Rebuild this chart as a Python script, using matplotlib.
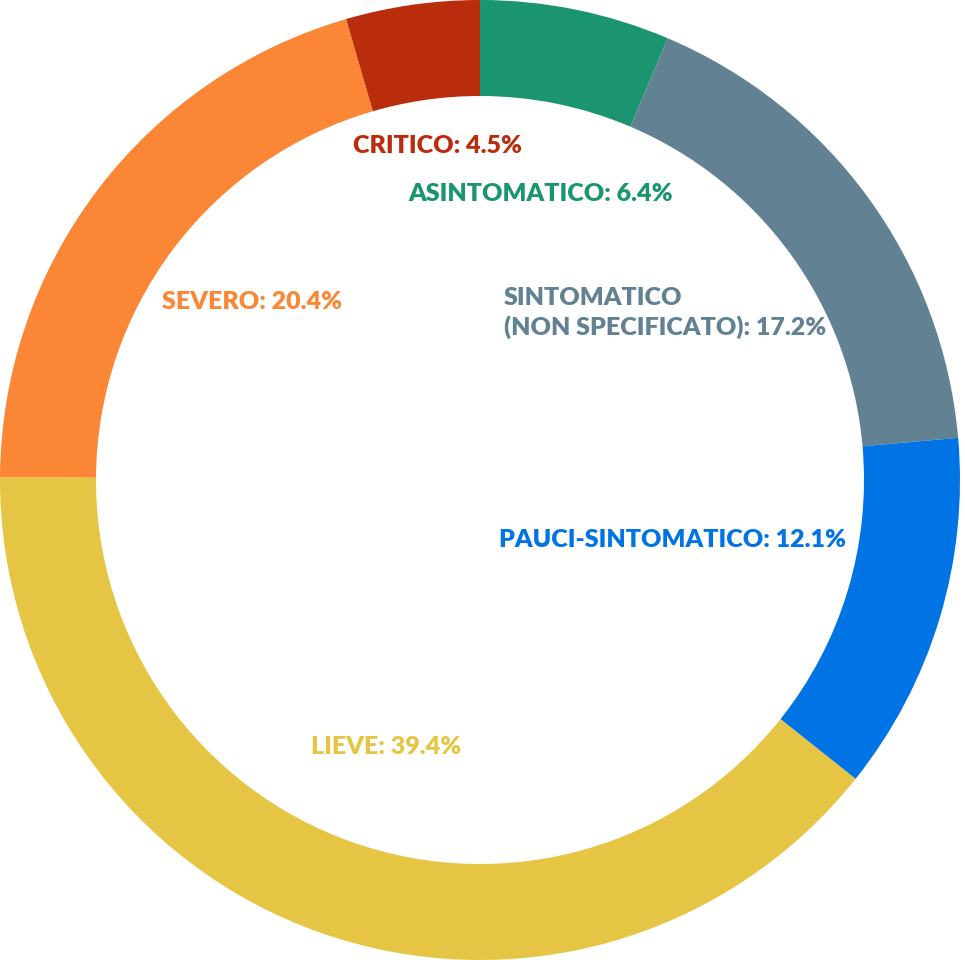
import matplotlib.pyplot as plt

plt.rcParams['font.family'] = ['Lato', 'DejaVu Sans']

categories = ["ASINTOMATICO", "SINTOMATICO\n(NON SPECIFICATO)", "PAUCI-SINTOMATICO",
              "LIEVE", "SEVERO", "CRITICO"]
shares = [6.4, 17.2, 12.1, 39.4, 20.4, 4.5]
colors = ["#1b9570", "#628294", "#0074e5", "#e6c545", "#fb8636", "#b92d0d"]

# label anchors (left edge, vertical centre) in pixels from the top-left corner
label_px = [(408, 194), (504, 313), (499, 540), (311, 747), (162, 302), (353, 146)]

W, H, DPI = 965, 960, 100
R = H / 2

fig = plt.figure(figsize=(W / DPI, H / DPI), dpi=DPI)
ax = fig.add_axes([0, 0, 1, 1])

ax.pie(shares, colors=colors, startangle=90, counterclock=False, radius=1,
       wedgeprops=dict(width=0.2, linewidth=0))

# pie() resets the view, so pin the limits afterwards: ring fills the height
ax.set_aspect('auto')
ax.set_xlim(-1, -1 + W / R)
ax.set_ylim(-1, 1)
ax.axis('off')

for cat, val, col, (px, py) in zip(categories, shares, colors, label_px):
    ax.text(px / R - 1, 1 - py / R, f"{cat}: {val}%", color=col,
            fontsize=18, fontweight='heavy', ha='left', va='center',
            linespacing=1.37)

fig.savefig("out.png", dpi=DPI)
